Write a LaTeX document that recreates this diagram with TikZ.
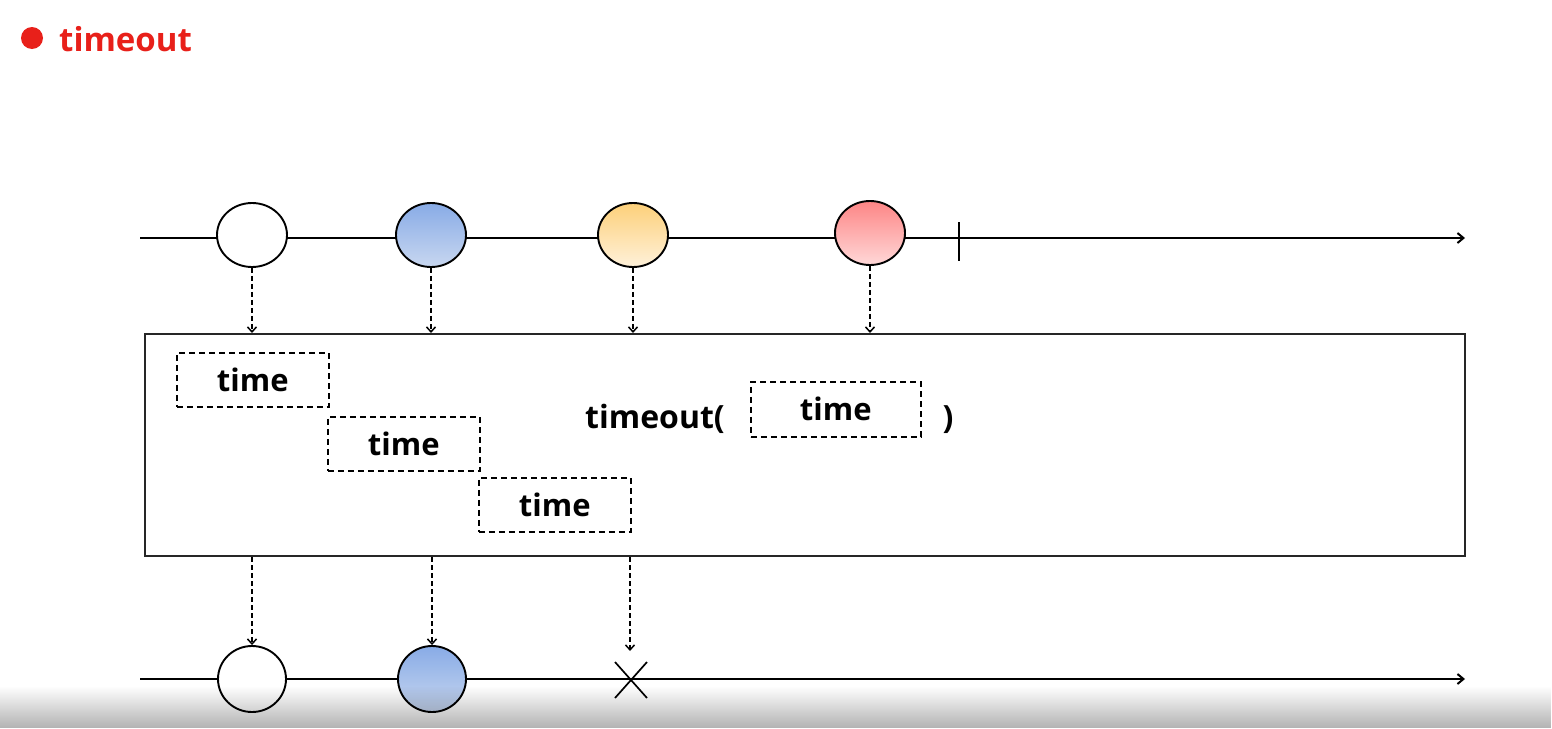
\documentclass[tikz,border=0pt]{standalone}
\usepackage{fontspec}
\setmainfont{Open Sans}
\usetikzlibrary{arrows.meta,shapes.geometric,fadings}
\definecolor{titlered}{HTML}{E8201A}
\definecolor{bluetop}{HTML}{88ABE6}
\definecolor{bluebot}{HTML}{C8D7F0}
\definecolor{yeltop}{HTML}{FDD07A}
\definecolor{yelbot}{HTML}{FEF1DA}
\definecolor{redtop}{HTML}{FD8585}
\definecolor{redbot}{HTML}{FFD8D8}
\tikzset{
  timeline/.style={line width=2pt, -{Straight Barb[length=6pt,width=10pt,line width=2pt]}},
  ev/.style={ellipse, draw, line width=1.9pt, minimum width=70pt, minimum height=64pt, inner sep=0pt},
  darr/.style={line width=1.5pt, dash pattern=on 5pt off 3pt, -{Straight Barb[length=5pt,width=9pt,line width=1.5pt]}},
  tbox/.style={draw, line width=1.6pt, dash pattern=on 6pt off 4pt, anchor=north west, minimum width=152pt, minimum height=54pt, inner sep=0pt, font=\fontsize{31}{31}\selectfont\bfseries},
  bigtxt/.style={font=\fontsize{32}{32}\selectfont\bfseries},
}
\begin{document}
\begin{tikzpicture}[x=1pt,y=-1pt]
\useasboundingbox[fill=white] (0,0) rectangle (1552,728);
% title
\fill[titlered] (32,38) circle (11pt);
\node[anchor=base west, inner sep=0pt, text=titlered, font=\fontsize{33}{33}\selectfont\bfseries] (title) at (59,51) {timeout};
% top timeline
\coordinate (tl0) at (140,238);
\coordinate (tl1) at (1465,238);
\draw[timeline] (tl0) -- (tl1);
\node[ev, fill=white] (a1) at (252,235) {};
\node[ev, top color=bluetop, bottom color=bluebot] (a2) at (431,235) {};
\node[ev, top color=yeltop, bottom color=yelbot] (a3) at (633,235) {};
\node[ev, top color=redtop, bottom color=redbot] (a4) at (870,233) {};
\coordinate (tick) at (959,241);
\draw[line width=2pt] (tick) ++(0,-19) -- ++(0,39);
% operator box
\node[draw, line width=2pt, draw=black!85, anchor=north west, minimum width=1320pt, minimum height=222pt, inner sep=0pt] (box) at (144,333) {};
\foreach \i in {1,2,3,4} \draw[darr] (a\i) -- (a\i |- box.north);
% time boxes
\node[tbox] (t1) at (176,352) {time};
\node[tbox] (t2) at (327,416) {time};
\node[tbox] (t3) at (478,477) {time};
\node[tbox, minimum width=170pt, minimum height=55pt] (t4) at (750,381) {time};
\node[bigtxt, anchor=base east, inner sep=0pt] (op) at (725,428) {timeout(};
\node[bigtxt, anchor=base, inner sep=0pt] (cp) at (948,428) {)};
% bottom timeline
\coordinate (bl0) at (140,679);
\coordinate (bl1) at (1465,679);
\draw[timeline] (bl0) -- (bl1);
\node[ev, fill=white, minimum height=66pt, minimum width=68pt] (b1) at (252,679) {};
\node[ev, top color=bluetop, bottom color=bluebot, minimum height=66pt, minimum width=68pt] (b2) at (432,679) {};
\coordinate (xx) at (631,680);
\coordinate (xtop) at (630,651);
\draw[line width=1.7pt] (xx) +(-16,-18) -- +(16,18);
\draw[line width=1.7pt] (xx) +(16,-18) -- +(-16,18);
\draw[darr] (b1 |- box.south) -- (b1.north);
\draw[darr] (b2 |- box.south) -- (b2.north);
\draw[darr] (xtop |- box.south) -- (xtop);
% bottom overlay band
\fill[black, path fading=north, opacity=0.3] (0,686) rectangle (1552,728);
\end{tikzpicture}
\end{document}
